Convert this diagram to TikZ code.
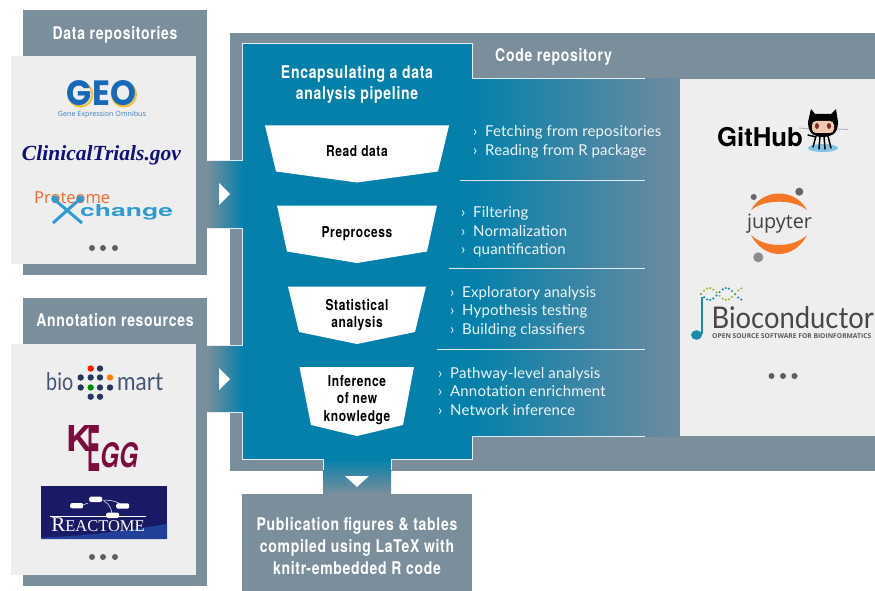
\documentclass[tikz,border=0pt]{standalone}
\usepackage{fontspec}
\usepackage{graphicx}
\setmainfont{Lato}
\newfontfamily\headf{TeX Gyre Heros}[FakeStretch=0.8,LetterSpace=4]
\newfontfamily\bodyf{Lato}[LetterSpace=1]
\newfontfamily\latof{Lato}
\newfontfamily\heros{TeX Gyre Heros}
\newfontfamily\serif{Liberation Serif}
\newfontfamily\openf{Open Sans}
\newfontfamily\popf{Poppins}
\definecolor{slate}{HTML}{7A8E9C}
\definecolor{deepblue}{HTML}{0480AB}
\definecolor{panelgrey}{HTML}{EEEEEE}
\definecolor{fadegrey}{HTML}{6E8B9F}
\definecolor{dotgrey}{HTML}{5F5F5F}
\definecolor{martnavy}{HTML}{24385B}
\definecolor{keggred}{HTML}{7D0C3E}
\definecolor{jorange}{HTML}{F37726}
\newcommand{\fs}[1]{\fontsize{#1}{#1}\selectfont}
\tikzset{
  box/.style={inner sep=0pt,outer sep=0pt,draw=none},
  slatebox/.style={box,fill=slate},
  greybox/.style={box,fill=panelgrey},
  title/.style={inner sep=0pt,text=white,font=\headf\bfseries\fs{17.5},align=center},
  funneltext/.style={inner sep=0pt,text=black,font=\headf\bfseries\fs{15},align=center},
  funnel/.style={fill=white},
  bodytext/.style={inner sep=0pt,anchor=base west,text=white,opacity=.92,font=\bodyf\fs{15}},
  sep/.style={white,line width=1pt,opacity=.85},
  tri/.style={fill=white},
  dot/.style={fill=dotgrey},
}
\begin{document}
\begin{tikzpicture}[x=1pt,y=-1pt]
\useasboundingbox (0,0) rectangle (875,591);
\clip (0,0) rectangle (875,591);
% outer boxes
\node[slatebox,minimum width=184pt,minimum height=265pt] (dataouter) at (115,142.5) {};
\node[slatebox,minimum width=184pt,minimum height=288pt] (annoouter) at (115,442) {};
\node[slatebox,minimum width=645pt,minimum height=438pt,anchor=north west] (code) at (230,33) {};
\node[greybox,minimum width=184.6pt,minimum height=207.5pt,anchor=north west] (datapanel) at (11.2,56) {};
\node[greybox,minimum width=184.6pt,minimum height=230.5pt,anchor=north west] (annopanel) at (11.2,344) {};
\node[slatebox,minimum width=230pt,minimum height=97pt,anchor=north west] (output) at (242,494) {};
% pipeline panel
\node[box,fill=deepblue,minimum width=230pt,minimum height=415pt,anchor=north west] (pipe) at (242,44) {};
\shade[left color=deepblue,right color=fadegrey] (472,79) rectangle (680,436);
\node[box,fill=panelgrey,minimum width=195pt,minimum height=357pt,anchor=north west] (codepanel) at (680,79) {};
% connecting bands
\coordinate (b1a) at (207,160); \coordinate (b1b) at (243,228);
\coordinate (b2a) at (207,345); \coordinate (b2b) at (243,412);
\coordinate (b3a) at (323,459); \coordinate (b3b) at (391,494);
\shade[left color=slate,right color=deepblue] (b1a) rectangle (b1b);
\shade[left color=slate,right color=deepblue] (b2a) rectangle (b2b);
\shade[top color=deepblue,bottom color=slate] (b3a) rectangle (b3b);
\fill[tri] (219,183) -- (230,194) -- (219,205) -- cycle;
\fill[tri] (219,368) -- (230,379) -- (219,390) -- cycle;
\fill[tri] (345,476) -- (369,476) -- (357,487) -- cycle;
% white edges
\draw[sep,line join=miter] (645,79) -- (472,79) -- (472,44) -- (242,44) -- (242,160) -- (207,160);
\draw[sep] (207,228) -- (242,228) -- (242,345) -- (207,345);
\draw[sep] (207,412) -- (242,412) -- (242,459) -- (323,459) -- (323,470);
\draw[sep] (391,470) -- (391,459) -- (472,459) -- (472,436) -- (645,436);
\draw[sep] (460,180) -- (645,180);
\draw[sep] (449,268.5) -- (645,268.5);
\draw[sep] (437,349) -- (645,349);
% funnels
\fill[funnel] (265,125.5) -- (449,125.5) -- (438,171.5) -- (357,182.5) -- (276,171.5) -- cycle;
\fill[funnel] (277,205.5) -- (437,205.5) -- (427,251.5) -- (357,263) -- (287,251.5) -- cycle;
\fill[funnel] (288,286.5) -- (426,286.5) -- (415,332) -- (357,344) -- (299,332) -- cycle;
\fill[funnel] (299.5,367) -- (414,367) -- (403,425) -- (357,436) -- (311,425) -- cycle;
\node[funneltext] (f1) at (357,151) {Read data};
\node[funneltext] (f2) at (357,234) {Preprocess};
\node[funneltext] (f3) at (357,315) {Statistical\\[2.5pt]analysis};
\node[funneltext] (f4) at (357,400) {Inference\\[2.5pt]of new\\[2.5pt]knowledge};
% titles
\node[title] (t1) at (115,35) {Data repositories};
\node[title] (t2) at (115,320) {Annotation resources};
\node[title,anchor=west] (t3) at (495,57) {Code repository};
\node[title] (t4) at (357,84.5) {Encapsulating a data\\[3.5pt]analysis pipeline};
\node[title] (t5) at (357,546) {Publication figures \& tables\\[4.5pt]compiled using LaTeX with\\[4.5pt]knitr-embedded R code};
% bullet lists
\foreach \bx/\tx/\by/\txt in {
 473/485/136/Fetching from repositories,
 473/485/155/Reading from R package,
 461/473/217/Filtering,
 461/473/236/Normalization,
 461/473/254/quantification,
 450/462/297/Exploratory analysis,
 450/462/315/Hypothesis testing,
 450/462/334/Building classifiers,
 438/450/378/Pathway-level analysis,
 438/450/396/Annotation enrichment,
 438/450/415/Network inference}{
  \node[bodytext] at (\bx,\by) {›};
  \node[bodytext] at (\tx,\by) {\txt};
}
% GEO logo
\draw[color={rgb,255:red,245;green,190;blue,40},line width=2pt] (80.5,94.5) ellipse (12 and 12) (124,94.5) ellipse (12 and 12);
\node[inner sep=0pt,anchor=base,text={rgb,255:red,25;green,105;blue,185}] (geo) at (101.5,106) {\resizebox{69pt}{25pt}{\popf\bfseries GEO}};
\node[inner sep=0pt,text={rgb,255:red,60;green,125;blue,185}] (geotext) at (102,115) {\resizebox{88pt}{!}{\openf Gene Expression Omnibus}};
% ClinicalTrials
\node[inner sep=0pt,text={rgb,255:red,16;green,16;blue,122}] (ct) at (101.5,155) {\resizebox{159pt}{!}{\serif\bfseries\itshape ClinicalTrials.gov}};
% ProteomeXchange
\node[inner sep=0pt,anchor=west,text={rgb,255:red,242;green,106;blue,46}] (prot) at (34,197.5) {\resizebox{76pt}{!}{\openf Proteome}};
\draw[line width=3pt,color={rgb,255:red,46;green,155;blue,210}] (55,200) -- (82,223) (80,199) -- (53,223);
\fill[color={rgb,255:red,46;green,155;blue,210}] (55,199) circle (3.6) (80,199) circle (3.6);
\node[inner sep=0pt,anchor=west,text={rgb,255:red,46;green,155;blue,210}] (chg) at (80,212.5) {\resizebox{93pt}{12pt}{\heros\bfseries change}};
% dots
\fill[dot] (92,248) circle (3) (103,248) circle (3) (115,248) circle (3);
\fill[dot] (92,557) circle (3) (103,557) circle (3) (115,557) circle (3);
\fill[dot] (771.5,376) circle (3) (783,376) circle (3) (794.5,376) circle (3);
% biomart
\node[inner sep=0pt,anchor=base west,text=martnavy!85] (bio) at (46,390) {\resizebox{27pt}{18pt}{\latof bio}};
\node[inner sep=0pt,anchor=base west,text=martnavy!85] (mart) at (117,390) {\resizebox{46pt}{17pt}{\latof mart}};
\foreach \p/\q in {100/368.5,80.7/377.5,90.7/377.5,100/377.5,80.7/387.5,100/387.5,110/387.5,90.7/396.7,100/396.7}{\fill[martnavy] (\p,\q) circle (3.2);}
\fill[red!80!orange] (90.7,368.5) circle (3.2);
\fill[orange] (110,377.5) circle (3.2);
\fill[green!55!black] (90.7,387.5) circle (3.2);
% KEGG
\node[inner sep=0pt,text=keggred] (kk) at (79.5,438) {\resizebox{26pt}{26pt}{\heros\bfseries K}};
\node[inner sep=0pt,text=keggred] (ke) at (93.5,448) {\resizebox{13pt}{46pt}{\heros\bfseries E}};
\node[inner sep=0pt,text=keggred] (kg) at (119,455) {\resizebox{38pt}{25pt}{\heros\bfseries\itshape GG}};
% Reactome
\node[box,fill={rgb,255:red,25;green,26;blue,102},minimum width=126pt,minimum height=53pt,anchor=north west] (react) at (41,486) {};
\fill[color={rgb,255:red,33;green,64;blue,154}] (41,539) -- (41,537.5) .. controls (90,536) and (130,530) .. (167,524) -- (167,539) -- cycle;
\draw[white,line width=.5pt] (88,503) -- (83,505) (102,500) .. controls (112,500) and (118,502) .. (120,504) (104,501) .. controls (109,504) and (111,508) .. (112,513);
\foreach \p/\q in {95.7/499.3,76.7/505.7,122.7/506,112.7/515.3}{\fill[white,rounded corners=2pt] (\p-6.5,\q-2.7) rectangle (\p+6.5,\q+2.7);}
\draw[white,line width=.5pt] (50,516.5) -- (146,516.5);
\node[inner sep=0pt,anchor=base,text=white] (rt) at (98,531) {\serif{\fs{21}R}{\fs{16.5}EACTOME}};
% GitHub
\node[inner sep=0pt,text=black] (gh) at (760,137.5) {\resizebox{86pt}{!}{\heros\bfseries GitHub}};
\draw[black!30,line width=.8pt] (799,128) -- (811,129) (837,129) -- (848,129.5);
\fill[color={rgb,255:red,126;green,197;blue,229}] (823,148) ellipse (15 and 4);
\fill[black] (811,109) -- (815,114) -- (831,114) -- (836,109) -- (838,122) .. controls (838,135) and (830,137) .. (823,137) .. controls (816,137) and (808,135) .. (808,122) -- cycle;
\fill[color={rgb,255:red,240;green,200;blue,176},rounded corners=4pt] (812,121) rectangle (834,133);
\fill[color={rgb,255:red,130;green,40;blue,40}] (817,126) ellipse (2 and 3) (829,126) ellipse (2 and 3);
\draw[black,line width=1.5pt,line cap=round] (816,136) -- (813,147) (820,136) -- (819,149) (824,136) -- (825,149) (828,136) -- (831,148) (816,137) -- (808,135);
% Jupyter
\fill[jorange] (751,210) .. controls (757,199) and (768,193.5) .. (779,193.5) .. controls (790,193.5) and (801,199) .. (807,210) .. controls (800,204.5) and (790,201.7) .. (779,201.7) .. controls (768,201.7) and (758,204.5) .. (751,210) -- cycle;
\fill[jorange] (751,235) .. controls (757,247) and (768,254) .. (779,254) .. controls (790,254) and (801,247) .. (807,235) .. controls (800,241.5) and (790,245) .. (779,245) .. controls (768,245) and (758,241.5) .. (751,235) -- cycle;
\node[inner sep=0pt,anchor=base,text=black!75] (jup) at (779.5,228) {\resizebox{65pt}{!}{\openf jupyter}};
\fill[black!60] (753.7,197) circle (3);
\fill[black!60] (799.3,191.7) circle (4);
\fill[black!45] (758.3,257.3) circle (5);
% Bioconductor
\draw[color={rgb,255:red,26;green,140;blue,168},line width=1.2pt] (702,334) -- (702,297);
\fill[color={rgb,255:red,26;green,140;blue,168}] (696.5,335) ellipse (5.5 and 4.8);
\foreach \i in {0,...,13}{
  \pgfmathsetmacro{\hx}{701+\i*3.1}
  \pgfmathsetmacro{\hya}{294+6*sin(\i*33)}
  \pgfmathsetmacro{\hyb}{294-6*sin(\i*33)}
  \fill[color={rgb,255:red,26;green,140;blue,168}] (\hx,\hya) circle (1.2);
  \fill[color={rgb,255:red,150;green,190;blue,50}] (\hx,\hyb) circle (1.2);
}
\node[inner sep=0pt,anchor=base west,text=black!72] (bc) at (711.5,328) {\resizebox{162pt}{22pt}{\latof Bioconductor}};
\node[inner sep=0pt,anchor=base west,text=black!65] (bcs) at (712,338) {\resizebox{159pt}{!}{\openf\bfseries OPEN SOURCE SOFTWARE FOR BIOINFORMATICS}};
\end{tikzpicture}
\end{document}
